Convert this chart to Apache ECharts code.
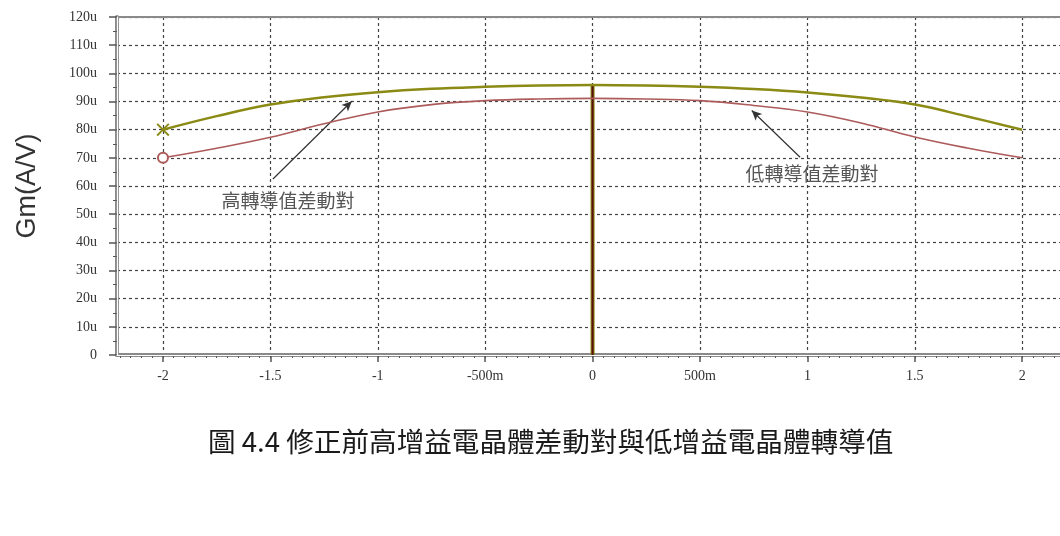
<!DOCTYPE html>
<html>
<head>
<meta charset="utf-8">
<script src="https://cdn.jsdelivr.net/npm/echarts@6/dist/echarts.min.js"></script>
<style>
  html, body { margin: 0; padding: 0; background: #fff; }
  #chart { width: 1060px; height: 536px; }
</style>
</head>
<body>
<div id="chart"></div>
<script>
// Differential input voltage sweep (V)
const vIn = [-2, -1.75, -1.5, -1.25, -1, -0.75, -0.5, -0.25, 0, 0.25, 0.5, 0.75, 1, 1.25, 1.5, 1.75, 2];
// Transconductance of the high-Gm differential pair (uA/V)
const gmHigh = [80, 84.8, 88.9, 91.5, 93.3, 94.5, 95.2, 95.7, 95.9, 95.7, 95.2, 94.4, 93.2, 91.4, 88.9, 84.6, 80];
// Transconductance of the low-Gm differential pair (uA/V)
const gmLow = [70, 73.4, 77.3, 82.1, 86.3, 88.9, 90.3, 90.9, 91.1, 90.9, 90.3, 88.6, 86.3, 82.4, 77.4, 73.4, 70];
// Vertical cursor at 0 V
const cursorX = 0;
const cursorTop = 95.9;

// Axis tick labels
const xTickValues = [-2, -1.5, -1, -0.5, 0, 0.5, 1, 1.5, 2];
const xTickLabels = ['-2', '-1.5', '-1', '-500m', '0', '500m', '1', '1.5', '2'];
const yTickValues = [0, 10, 20, 30, 40, 50, 60, 70, 80, 90, 100, 110, 120];
const yTickLabels = ['0', '10u', '20u', '30u', '40u', '50u', '60u', '70u', '80u', '90u', '100u', '110u', '120u'];

// Annotations: text, text anchor, arrow start, arrow end
const noteHigh = { text: '高轉導值差動對', at: [-1.418, 54.8], from: [-1.488, 62.5], to: [-1.121, 90.1] };
const noteLow = { text: '低轉導值差動對', at: [1.021, 64.3], from: [0.966, 70.2], to: [0.741, 86.8] };

const caption = '圖 4.4 修正前高增益電晶體差動對與低增益電晶體轉導值';

const X_MIN = -2.214, X_MAX = 2.176;

const xLabelMap = {};
xTickValues.forEach((v, i) => { xLabelMap[v] = xTickLabels[i]; });
const yLabelMap = {};
yTickValues.forEach((v, i) => { yLabelMap[v] = yTickLabels[i]; });

// minor tick positions on the voltage axis
const xMinor = [];
for (let k = -44; k <= 43; k++) {
  const v = Math.round(k * 5) / 100;
  if (v >= X_MIN && v <= X_MAX) xMinor.push(v);
}

const serif = '"Liberation Serif", "DejaVu Serif", serif';
const cjk = '"Noto Sans CJK TC", "Noto Sans CJK SC", sans-serif';
const olive = '#8a8a14';
const rose = '#ad5a5a';
const gridLine = { show: true, lineStyle: { color: '#444', width: 1.2, type: [3, 3] } };

const chart = echarts.init(document.getElementById('chart'), null, { renderer: 'canvas' });

chart.setOption({
  backgroundColor: '#fff',
  animation: false,
  grid: { left: 117, right: 0, top: 17, bottom: 181 },
  xAxis: [
    {
      type: 'value', min: X_MIN, max: X_MAX, position: 'bottom',
      axisLine: { show: true, onZero: false, lineStyle: { color: '#8a8a8a', width: 4 } },
      axisTick: { show: true, customValues: xTickValues, length: 7, lineStyle: { color: '#555', width: 1.5 } },
      axisLabel: {
        customValues: xTickValues, margin: 14,
        formatter: v => xLabelMap[v] !== undefined ? xLabelMap[v] : '',
        fontFamily: serif, fontSize: 14, color: '#333'
      },
      splitLine: gridLine
    },
    {
      // minor ticks along the voltage axis
      type: 'value', min: X_MIN, max: X_MAX, position: 'bottom',
      axisLine: { show: false },
      axisTick: { show: true, customValues: xMinor, length: 3, lineStyle: { color: '#555', width: 1 } },
      axisLabel: { show: false },
      splitLine: { show: false }
    },
    {
      // inner white gap of the double axis line
      type: 'value', min: X_MIN, max: X_MAX, position: 'bottom', z: 3,
      axisLine: { show: true, onZero: false, lineStyle: { color: '#fff', width: 1.2 } },
      axisTick: { show: false }, axisLabel: { show: false }, splitLine: { show: false }
    },
    {
      // top frame
      type: 'value', min: X_MIN, max: X_MAX, position: 'top',
      axisLine: { show: true, onZero: false, lineStyle: { color: '#8a8a8a', width: 2 } },
      axisTick: { show: false }, axisLabel: { show: false }, splitLine: { show: false }
    }
  ],
  yAxis: [
    {
      type: 'value', min: 0, max: 120, interval: 10, position: 'left',
      name: 'Gm(A/V)', nameLocation: 'middle', nameGap: 76, nameRotate: 90,
      nameTextStyle: { fontFamily: '"Liberation Sans", Arial, sans-serif', fontSize: 27, color: '#333' },
      axisLine: { show: true, onZero: false, lineStyle: { color: '#8a8a8a', width: 4 } },
      axisTick: { show: true, length: 8, lineStyle: { color: '#555', width: 1.5 } },
      minorTick: { show: true, splitNumber: 2, length: 4, lineStyle: { color: '#555' } },
      axisLabel: {
        margin: 20,
        formatter: v => yLabelMap[v] !== undefined ? yLabelMap[v] : '',
        fontFamily: serif, fontSize: 14, color: '#333'
      },
      splitLine: gridLine
    },
    {
      type: 'value', min: 0, max: 120, position: 'left', z: 3,
      axisLine: { show: true, onZero: false, lineStyle: { color: '#fff', width: 1.2 } },
      axisTick: { show: false }, axisLabel: { show: false }, splitLine: { show: false }
    }
  ],
  series: [
    {
      name: 'cursor-edge', type: 'line', z: 4,
      data: [[cursorX, 0], [cursorX, cursorTop]],
      symbol: 'none', lineStyle: { color: olive, width: 4 }
    },
    {
      name: 'cursor', type: 'line', z: 5,
      data: [[cursorX, 0], [cursorX, cursorTop]],
      symbol: 'none', lineStyle: { color: '#5a0f0f', width: 2 }
    },
    {
      name: 'high', type: 'line', z: 6, smooth: 0.4,
      symbol: 'none',
      data: vIn.map((x, i) => i === 0
        ? { value: [x, gmHigh[i]], symbol: 'path://M0,1L1,0L5,4L9,0L10,1L6,5L10,9L9,10L5,6L1,10L0,9L4,5Z', symbolSize: 13, itemStyle: { color: olive } }
        : [x, gmHigh[i]]),
      lineStyle: { color: olive, width: 2.5 },
      itemStyle: { color: olive },
      markLine: {
        silent: true, symbol: ['none', 'arrow'], symbolSize: [7, 10],
        lineStyle: { color: '#333', width: 1.2, type: 'solid' },
        label: { show: false },
        data: [[{ coord: noteHigh.from }, { coord: noteHigh.to }]]
      },
      markPoint: {
        silent: true, symbol: 'rect', symbolSize: 1, itemStyle: { color: 'transparent' },
        label: { show: true, position: 'inside', formatter: noteHigh.text, fontFamily: cjk, fontSize: 19, color: '#555' },
        data: [{ coord: noteHigh.at }]
      }
    },
    {
      name: 'low', type: 'line', z: 6, smooth: 0.4,
      symbol: 'none',
      data: vIn.map((x, i) => i === 0
        ? { value: [x, gmLow[i]], symbol: 'emptyCircle', symbolSize: 10, itemStyle: { color: rose, borderColor: rose, borderWidth: 1.5 } }
        : [x, gmLow[i]]),
      lineStyle: { color: rose, width: 1.6 },
      itemStyle: { color: rose },
      markLine: {
        silent: true, symbol: ['none', 'arrow'], symbolSize: [7, 10],
        lineStyle: { color: '#333', width: 1.2, type: 'solid' },
        label: { show: false },
        data: [[{ coord: noteLow.from }, { coord: noteLow.to }]]
      },
      markPoint: {
        silent: true, symbol: 'rect', symbolSize: 1, itemStyle: { color: 'transparent' },
        label: { show: true, position: 'inside', formatter: noteLow.text, fontFamily: cjk, fontSize: 19, color: '#555' },
        data: [{ coord: noteLow.at }]
      }
    }
  ],
  graphic: [
    {
      type: 'text', left: 208, top: 428,
      style: { text: caption, font: '27.6px ' + cjk, fill: '#1a1a1a' }
    }
  ]
});
</script>
</body>
</html>
